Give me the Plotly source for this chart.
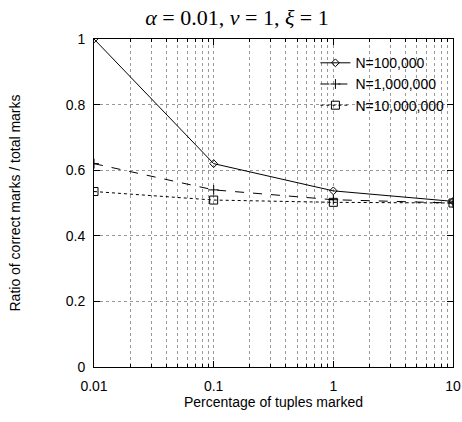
import plotly.graph_objects as go

pct = [0.01, 0.1, 1, 10]
series_names = ["N=100,000", "N=1,000,000", "N=10,000,000"]
ratio_100k = [1.0, 0.62, 0.537, 0.505]
ratio_1m = [0.62, 0.54, 0.51, 0.50]
ratio_10m = [0.535, 0.509, 0.502, 0.50]
x_tick_labels = ["0.01", "0.1", "1", "10"]
y_ticks = [0, 0.2, 0.4, 0.6, 0.8, 1]
y_tick_labels = ["0", "0.2", "0.4", "0.6", "0.8", "1"]

styles = [
    dict(dash="solid", symbol="diamond-open", size=6),
    dict(dash="dash", symbol="cross-thin-open", size=7),
    dict(dash="dot", symbol="square-open", size=8),
]

fig = go.Figure()
for name, vals, st in zip(series_names, [ratio_100k, ratio_1m, ratio_10m], styles):
    fig.add_trace(go.Scatter(
        x=pct, y=vals, name=name, mode="lines+markers",
        line=dict(color="black", width=1, dash=st["dash"]),
        marker=dict(symbol=st["symbol"], size=st["size"], color="black",
                    line=dict(color="black", width=1)),
    ))

minor_vals = [m * 10 ** e for e in (-2, -1, 0) for m in range(2, 10)]

font = dict(family="Liberation Sans, Arial, sans-serif", size=14, color="black")
grid_col = "#999"
fig.update_layout(
    width=462, height=422,
    margin=dict(l=94, r=9, t=39, b=55, autoexpand=False),
    paper_bgcolor="white", plot_bgcolor="white",
    font=font,
    title=dict(
        text="<i>α</i> = 0.01, <i>ν</i> = 1, <i>ξ</i> = 1",
        x=0.513, xanchor="center", y=0.958, yanchor="middle",
        font=dict(family="Liberation Serif, Times New Roman, serif", size=22, color="black"),
    ),
    showlegend=True,
    legend=dict(x=0.99, xanchor="right", y=0.975, yanchor="top",
                bgcolor="rgba(0,0,0,0)", font=font, tracegroupgap=0,
                itemwidth=30),
)
fig.update_xaxes(
    type="log", range=[-2, 1], automargin=False,
    tickvals=pct, ticktext=x_tick_labels,
    ticks="inside", ticklen=6, tickcolor="black",
    ticklabelstandoff=6, ticklabeloverflow="allow",
    showline=True, linecolor="black", linewidth=1, mirror="allticks",
    showgrid=True, gridcolor=grid_col, griddash="dot", gridwidth=1,
    minor=dict(tickvals=minor_vals, ticks="inside", ticklen=3, tickcolor="black",
               showgrid=True, gridcolor=grid_col, griddash="dot", gridwidth=1),
    zeroline=False,
    title=dict(text="Percentage of tuples marked", font=font, standoff=2),
)
fig.update_yaxes(
    range=[0, 1], automargin=False,
    tickvals=y_ticks, ticktext=y_tick_labels,
    ticks="inside", ticklen=6, tickcolor="black",
    ticklabelstandoff=5, ticklabeloverflow="allow",
    showline=True, linecolor="black", linewidth=1, mirror="allticks",
    showgrid=True, gridcolor=grid_col, griddash="dot", gridwidth=1,
    zeroline=False,
    title=dict(text="Ratio of correct marks / total marks", font=font, standoff=41),
)

fig.write_html("out.html", config={"displayModeBar": False},
               post_script="document.body.style.margin='0';document.body.style.overflow='hidden';")
